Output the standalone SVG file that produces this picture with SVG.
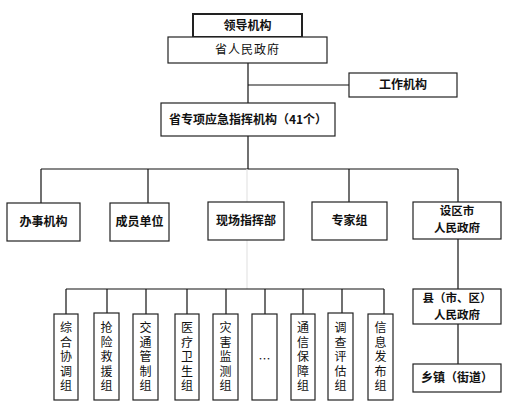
<svg xmlns="http://www.w3.org/2000/svg" width="510" height="408" viewBox="0 0 510 408">
<style>
rect{fill:#fff;stroke:#222;stroke-width:1.2}
.thick{stroke-width:2}
.c line{stroke:#111;stroke-width:1.2}
.c line.faint{stroke:#e4e4e4}
text{font-family:"Noto Sans CJK SC","Noto Sans",sans-serif;font-size:12px;fill:#111;text-anchor:middle}
.b{font-weight:bold}
.two{font-size:11.5px}
.v{writing-mode:vertical-rl;text-orientation:upright;letter-spacing:2.5px}
</style>
<rect x="0" y="0" width="510" height="408" style="fill:#fff;stroke:none"/>
<g class="c" id="connectors">
<line x1="248" y1="63" x2="248" y2="103"/>
<line x1="248" y1="85" x2="349" y2="85"/>
<line x1="248" y1="136" x2="248" y2="169"/>
<line x1="41" y1="169" x2="458" y2="169"/>
<line x1="41" y1="169" x2="41" y2="203"/>
<line x1="148" y1="169" x2="148" y2="203"/>
<line class="faint" x1="247" y1="169" x2="247" y2="289"/>
<line x1="349" y1="169" x2="349" y2="202"/>
<line x1="458" y1="169" x2="458" y2="202"/>
<line x1="458" y1="239" x2="458" y2="289"/>
<line x1="458" y1="324" x2="458" y2="364"/>
<line x1="66" y1="289" x2="384" y2="289"/>
<line x1="66" y1="289" x2="66" y2="314"/>
<line x1="107" y1="289" x2="107" y2="314"/>
<line x1="146" y1="289" x2="146" y2="314"/>
<line x1="187" y1="289" x2="187" y2="314"/>
<line x1="226" y1="289" x2="226" y2="314"/>
<line x1="265" y1="289" x2="265" y2="314"/>
<line x1="303" y1="289" x2="303" y2="314"/>
<line x1="342" y1="289" x2="342" y2="314"/>
<line x1="384" y1="289" x2="384" y2="314"/>
</g>
<g id="n-lingdao"><rect class="thick" x="193" y="14" width="109" height="23"/><text class="b" x="247.5" y="30">领导机构</text></g>
<g id="n-shengzf"><rect x="168" y="37" width="159" height="26"/><text x="247.5" y="54" letter-spacing="1">省人民政府</text></g>
<g id="n-gongzuo"><rect x="349" y="73" width="108" height="24"/><text class="b" x="403" y="89">工作机构</text></g>
<g id="n-zhihui"><rect x="161" y="103" width="174" height="33"/><text class="b" x="248" y="124">省专项应急指挥机构（41个）</text></g>
<g id="n-banshi"><rect x="7" y="203" width="73" height="38"/><text class="b" x="43.5" y="226">办事机构</text></g>
<g id="n-chengyuan"><rect x="110" y="203" width="59" height="38"/><text class="b" x="139.5" y="226">成员单位</text></g>
<g id="n-xianchang"><rect x="208" y="202" width="76" height="38"/><text class="b" x="246" y="225">现场指挥部</text></g>
<g id="n-zhuanjia"><rect x="312" y="202" width="75" height="38"/><text class="b" x="349.5" y="225">专家组</text></g>
<g id="n-shiqu"><rect x="413" y="202" width="88" height="37"/><text class="b two"><tspan x="457" y="215">设区市</tspan><tspan x="457" y="232">人民政府</tspan></text></g>
<g id="n-xian"><rect x="413" y="289" width="88" height="35"/><text class="b two"><tspan x="457" y="302">县（市、区）</tspan><tspan x="457" y="319">人民政府</tspan></text></g>
<g id="n-xiangzhen"><rect x="413" y="364" width="88" height="28"/><text class="b" x="457" y="382">乡镇（街道）</text></g>
<g id="g1"><rect x="54" y="314" width="24" height="86"/><text class="v" x="66" y="358">综合协调组</text></g>
<g id="g2"><rect x="94" y="313" width="25" height="87"/><text class="v" x="106.5" y="358">抢险救援组</text></g>
<g id="g3"><rect x="133" y="314" width="25" height="86"/><text class="v" x="145.5" y="358">交通管制组</text></g>
<g id="g4"><rect x="175" y="314" width="24" height="86"/><text class="v" x="187" y="358">医疗卫生组</text></g>
<g id="g5"><rect x="213" y="314" width="25" height="86"/><text class="v" x="225.5" y="358">灾害监测组</text></g>
<g id="g6"><rect x="252" y="314" width="25" height="86"/><text x="264.5" y="364">…</text></g>
<g id="g7"><rect x="291" y="314" width="24" height="86"/><text class="v" x="303" y="358">通信保障组</text></g>
<g id="g8"><rect x="328" y="313" width="25" height="87"/><text class="v" x="340.5" y="358">调查评估组</text></g>
<g id="g9"><rect x="368" y="314" width="25" height="86"/><text class="v" x="380.5" y="358">信息发布组</text></g>
</svg>
